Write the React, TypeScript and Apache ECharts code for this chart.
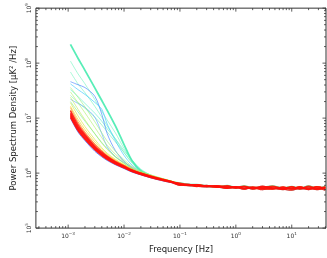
import React, { useEffect, useRef } from 'react';
import * as echarts from 'echarts';

// Frequencies [Hz]
const LOW_F = [0.0011, 0.0015, 0.002, 0.003, 0.004, 0.005, 0.007, 0.01, 0.014, 0.02, 0.03, 0.05, 0.07];
const PLATEAU_F = [0.1, 0.14, 0.2, 0.3, 0.45, 0.7, 1, 1.4, 2, 3, 4.5, 7, 10, 14, 20, 28, 40];

// Noisy white-noise plateaus
const PLAT_1 = [6.4e5, 6.0e5, 6.1e5, 5.7e5, 5.9e5, 5.5e5, 5.7e5, 5.2e5, 5.6e5, 5.3e5, 5.1e5, 5.6e5, 5.2e5, 5.7e5, 5.1e5, 5.6e5, 5.3e5];
const PLAT_2 = [6.1e5, 6.3e5, 5.8e5, 6.0e5, 5.5e5, 5.8e5, 5.3e5, 5.6e5, 5.1e5, 5.7e5, 5.4e5, 5.0e5, 5.6e5, 5.1e5, 5.6e5, 5.0e5, 5.5e5];
const PLAT_3 = [6.6e5, 6.2e5, 6.2e5, 5.8e5, 5.6e5, 5.9e5, 5.5e5, 5.8e5, 5.4e5, 5.5e5, 5.8e5, 5.3e5, 5.7e5, 5.2e5, 5.8e5, 5.3e5, 5.7e5];
const PLAT_4 = [6.2e5, 5.9e5, 5.8e5, 5.6e5, 5.7e5, 5.3e5, 5.5e5, 5.1e5, 5.5e5, 5.0e5, 5.3e5, 5.1e5, 4.9e5, 5.3e5, 5.0e5, 5.3e5, 4.9e5];
const PLAT_5 = [6.3e5, 6.1e5, 6.2e5, 5.8e5, 5.9e5, 5.6e5, 5.4e5, 5.7e5, 5.2e5, 5.3e5, 5.6e5, 5.2e5, 5.4e5, 5.5e5, 5.2e5, 5.7e5, 5.2e5];
const PLAT_6 = [6.0e5, 6.2e5, 5.7e5, 5.9e5, 5.6e5, 5.3e5, 5.6e5, 5.3e5, 5.3e5, 5.8e5, 5.2e5, 5.5e5, 5.1e5, 5.4e5, 5.4e5, 5.1e5, 5.5e5];

// Low-frequency parts of the spectra [uK^2/Hz]
const AQUA_1 = [2.19e8, 1.23e8, 7.4e7, 3.55e7, 2.09e7, 1.38e7, 7.2e6, 3.3e6, 1.66e6, 1.1e6, 8.8e5, 7.5e5, 6.9e5];
const AQUA_2 = [1.09e8, 6.4e7, 4.2e7, 2.18e7, 1.33e7, 9.2e6, 5.4e6, 2.8e6, 1.64e6, 1.13e6, 8.8e5, 7.5e5, 6.9e5];
const AQUA_3 = [6.9e7, 4.2e7, 2.9e7, 1.64e7, 1.04e7, 7.2e6, 4.2e6, 2.37e6, 1.51e6, 1.09e6, 8.8e5, 7.5e5, 6.9e5];
const AQUA_4 = [3.3e7, 2.47e7, 1.85e7, 1.23e7, 8.8e6, 6.4e6, 4.2e6, 2.58e6, 1.71e6, 1.18e6, 9.2e5, 7.5e5, 6.9e5];
const AQUA_5 = [2.58e7, 1.93e7, 1.51e7, 1.04e7, 7.5e6, 5.6e6, 3.7e6, 2.37e6, 1.57e6, 1.13e6, 9.2e5, 7.5e5, 6.9e5];
const BLUE_1 = [4.6e7, 4.05e7, 3.6e7, 2.5e7, 1.18e7, 5.2e6, 2.57e6, 1.64e6, 1.23e6, 1.0e6, 8.5e5, 7.4e5, 6.8e5];
const BLUE_2 = [4.2e7, 3.3e7, 2.7e7, 1.93e7, 1.45e7, 7.8e6, 3.9e6, 2.1e6, 1.39e6, 1.08e6, 8.8e5, 7.6e5, 7.0e5];
const BLUE_3 = [2.2e7, 1.85e7, 1.57e7, 1.04e7, 5.2e6, 3.0e6, 2.0e6, 1.57e6, 1.28e6, 1.04e6, 8.8e5, 7.8e5, 6.9e5];
const BLUE_4 = [1.0e7, 5.6e6, 3.9e6, 2.5e6, 1.98e6, 1.7e6, 1.42e6, 1.21e6, 1.04e6, 9.3e5, 8.2e5, 7.2e5, 6.7e5];
const GREEN_1 = [2.4e7, 1.45e7, 9.3e6, 5.2e6, 3.5e6, 2.7e6, 1.95e6, 1.5e6, 1.2e6, 1.03e6, 9.0e5, 7.8e5, 7.1e5];
const GREEN_2 = [3.0e7, 1.9e7, 1.25e7, 6.8e6, 4.4e6, 3.2e6, 2.2e6, 1.62e6, 1.26e6, 1.06e6, 9.2e5, 7.9e5, 7.2e5];
const GREEN_3 = [3.6e7, 2.4e7, 1.6e7, 8.6e6, 5.4e6, 3.8e6, 2.5e6, 1.75e6, 1.32e6, 1.08e6, 9.3e5, 7.9e5, 7.2e5];
const GREEN_4 = [2.0e7, 1.3e7, 8.8e6, 5.2e6, 3.6e6, 2.8e6, 2.0e6, 1.52e6, 1.2e6, 1.03e6, 9.0e5, 7.8e5, 7.1e5];
const YELLOW_1 = [1.65e7, 9.5e6, 6.2e6, 3.7e6, 2.7e6, 2.2e6, 1.72e6, 1.4e6, 1.17e6, 1.01e6, 8.9e5, 7.7e5, 7.1e5];
const YELLOW_2 = [1.9e7, 1.1e7, 7.0e6, 4.1e6, 2.9e6, 2.3e6, 1.78e6, 1.43e6, 1.18e6, 1.02e6, 9.0e5, 7.8e5, 7.1e5];
const ORANGE_1 = [1.4e7, 8.0e6, 5.3e6, 3.3e6, 2.5e6, 2.05e6, 1.65e6, 1.37e6, 1.15e6, 1.0e6, 8.9e5, 7.7e5, 7.1e5];
const ORANGE_2 = [1.55e7, 8.6e6, 5.6e6, 3.4e6, 2.55e6, 2.1e6, 1.68e6, 1.38e6, 1.16e6, 1.01e6, 8.9e5, 7.8e5, 7.1e5];
const RED_1 = [1.13e7, 6.4e6, 4.4e6, 2.8e6, 2.18e6, 1.85e6, 1.51e6, 1.28e6, 1.09e6, 9.6e5, 8.5e5, 7.5e5, 6.9e5];
const RED_2 = [1.25e7, 7.0e6, 4.8e6, 3.0e6, 2.3e6, 1.95e6, 1.58e6, 1.32e6, 1.12e6, 9.9e5, 8.7e5, 7.6e5, 7.0e5];
const RED_3 = [1.03e7, 5.9e6, 4.1e6, 2.65e6, 2.08e6, 1.77e6, 1.46e6, 1.24e6, 1.06e6, 9.4e5, 8.3e5, 7.3e5, 6.8e5];
const RED_4 = [1.35e7, 7.5e6, 5.0e6, 3.1e6, 2.4e6, 2.0e6, 1.6e6, 1.34e6, 1.13e6, 1.0e6, 8.8e5, 7.7e5, 7.1e5];
const RED_5 = [1.18e7, 6.7e6, 4.6e6, 2.9e6, 2.25e6, 1.9e6, 1.54e6, 1.30e6, 1.1e6, 9.7e5, 8.6e5, 7.5e5, 6.9e5];
const RED_6 = [1.08e7, 6.1e6, 4.2e6, 2.7e6, 2.12e6, 1.8e6, 1.48e6, 1.26e6, 1.07e6, 9.5e5, 8.4e5, 7.4e5, 6.8e5];

const X_TICK_EXPONENTS = [-3, -2, -1, 0, 1];
const Y_TICK_EXPONENTS = [5, 6, 7, 8, 9];

// Axis limits
const X_MIN = 2.65e-4;
const X_MAX = 41;
const Y_MIN = 1e5;
const Y_MAX = 1e9;

// Draw order: first is drawn underneath
const CURVES = [
  { low: BLUE_4, plat: PLAT_4, color: 'rgba(50,90,255,0.75)', width: 1 },
  { low: AQUA_2, plat: PLAT_1, color: 'rgba(110,245,190,0.6)', width: 1 },
  { low: AQUA_3, plat: PLAT_2, color: 'rgba(110,245,190,0.6)', width: 1 },
  { low: AQUA_4, plat: PLAT_3, color: 'rgba(90,240,200,0.6)', width: 1 },
  { low: AQUA_5, plat: PLAT_5, color: 'rgba(120,240,175,0.6)', width: 1 },
  { low: BLUE_1, plat: PLAT_6, color: 'rgba(80,140,255,0.7)', width: 1 },
  { low: BLUE_2, plat: PLAT_4, color: 'rgba(60,200,255,0.65)', width: 1 },
  { low: BLUE_3, plat: PLAT_2, color: 'rgba(90,160,255,0.6)', width: 1 },
  { low: AQUA_1, plat: PLAT_3, color: 'rgba(70,235,175,0.9)', width: 1.8 },
  { low: GREEN_3, plat: PLAT_1, color: 'rgba(150,240,120,0.6)', width: 1 },
  { low: GREEN_2, plat: PLAT_5, color: 'rgba(170,240,100,0.6)', width: 1 },
  { low: GREEN_1, plat: PLAT_6, color: 'rgba(190,235,80,0.6)', width: 1 },
  { low: GREEN_4, plat: PLAT_2, color: 'rgba(120,235,140,0.6)', width: 1 },
  { low: YELLOW_2, plat: PLAT_3, color: 'rgba(220,230,60,0.65)', width: 1 },
  { low: YELLOW_1, plat: PLAT_4, color: 'rgba(245,210,40,0.65)', width: 1 },
  { low: ORANGE_2, plat: PLAT_5, color: 'rgba(255,150,30,0.7)', width: 1 },
  { low: ORANGE_1, plat: PLAT_1, color: 'rgba(255,90,20,0.75)', width: 1.1 },
  { low: RED_1, plat: PLAT_1, color: 'rgba(255,15,10,0.85)', width: 1.3 },
  { low: RED_2, plat: PLAT_2, color: 'rgba(255,15,10,0.85)', width: 1.3 },
  { low: RED_3, plat: PLAT_3, color: 'rgba(255,15,10,0.85)', width: 1.3 },
  { low: RED_4, plat: PLAT_4, color: 'rgba(255,15,10,0.85)', width: 1.3 },
  { low: RED_5, plat: PLAT_5, color: 'rgba(255,15,10,0.85)', width: 1.3 },
  { low: RED_6, plat: PLAT_6, color: 'rgba(255,15,10,0.85)', width: 1.3 },
];

const FONT = 'DejaVu Sans';
const TICK_COLOR = '#333';

function expLabel(v: number, exps: number[]) {
  const l = Math.log10(v);
  const e = Math.round(l);
  if (Math.abs(l - e) > 1e-6 || exps.indexOf(e) < 0) return '';
  const s = e < 0 ? '\u2212' + Math.abs(e) : String(e);
  return '10{sup|' + s + '}';
}

function buildTicks() {
  const xt: number[][] = [];
  for (let e = -4; e <= 1; e++) {
    for (let m = 1; m <= 9; m++) {
      const v = m * Math.pow(10, e);
      if (v > X_MIN && v < X_MAX) xt.push([v, Y_MIN, m === 1 ? 3.5 : 2]);
    }
  }
  const yt: number[][] = [];
  for (let e = 5; e <= 9; e++) {
    for (let m = 1; m <= 9; m++) {
      const v = m * Math.pow(10, e);
      if (v >= Y_MIN && v <= Y_MAX) yt.push([X_MIN, v, m === 1 ? 3.5 : 2]);
    }
  }
  return { xt, yt };
}

export default function App() {
  const ref = useRef<HTMLDivElement>(null);
  useEffect(() => {
    if (!ref.current) return;
    const chart = echarts.init(ref.current, null, { renderer: 'svg' });
    const { xt, yt } = buildTicks();
    const tickStyle = { stroke: TICK_COLOR, lineWidth: 0.8 };
    const lineSeries = CURVES.map((c) => ({
      type: 'line',
      showSymbol: false,
      symbol: 'none',
      silent: true,
      smooth: 0.3,
      lineStyle: { color: c.color, width: c.width },
      data: [
        ...LOW_F.map((f, i) => [f, c.low[i]]),
        ...PLATEAU_F.map((f, i) => [f, c.plat[i]]),
      ],
    }));
    chart.setOption({
      animation: false,
      grid: {
        left: 29, right: 1, top: 7, bottom: 27,
        show: true, borderColor: '#333', borderWidth: 1, backgroundColor: 'transparent',
      },
      xAxis: {
        type: 'log', logBase: 10, min: X_MIN, max: X_MAX,
        name: 'Frequency [Hz]', nameLocation: 'middle', nameGap: 15,
        nameTextStyle: { fontFamily: FONT, fontSize: 8.5, color: '#222' },
        axisLine: { show: false }, axisTick: { show: false }, splitLine: { show: false },
        axisLabel: {
          margin: 3, showMinLabel: false, showMaxLabel: false,
          formatter: (v: number) => expLabel(v, X_TICK_EXPONENTS),
          fontFamily: FONT, fontSize: 6, color: '#333', lineHeight: 8,
          rich: { sup: { fontFamily: FONT, fontSize: 4.2, color: '#333', verticalAlign: 'top', lineHeight: 8 } },
        },
      },
      yAxis: {
        type: 'log', logBase: 10, min: Y_MIN, max: Y_MAX,
        name: 'Power Spectrum Density [\u03bcK\u00b2 /Hz]', nameLocation: 'middle', nameGap: 18,
        nameTextStyle: { fontFamily: FONT, fontSize: 8.5, color: '#222' },
        axisLine: { show: false }, axisTick: { show: false }, splitLine: { show: false },
        axisLabel: {
          margin: 3, rotate: 90,
          formatter: (v: number) => expLabel(v, Y_TICK_EXPONENTS),
          fontFamily: FONT, fontSize: 6, color: '#333', lineHeight: 8,
          rich: { sup: { fontFamily: FONT, fontSize: 4.2, color: '#333', verticalAlign: 'top', lineHeight: 8 } },
        },
      },
      series: [
        ...lineSeries,
        {
          type: 'custom', silent: true, clip: false, data: xt, z: 10,
          renderItem: (_p: any, api: any) => {
            const v = api.value(0);
            const len = api.value(2);
            const b = api.coord([v, Y_MIN]);
            const t = api.coord([v, Y_MAX]);
            return {
              type: 'group', children: [
                { type: 'line', shape: { x1: b[0], y1: b[1], x2: b[0], y2: b[1] - len }, style: tickStyle },
                { type: 'line', shape: { x1: t[0], y1: t[1], x2: t[0], y2: t[1] + len }, style: tickStyle },
              ],
            };
          },
        },
        {
          type: 'custom', silent: true, clip: false, data: yt, z: 10,
          renderItem: (_p: any, api: any) => {
            const v = api.value(1);
            const len = api.value(2);
            const l = api.coord([X_MIN, v]);
            const r = api.coord([X_MAX, v]);
            return {
              type: 'group', children: [
                { type: 'line', shape: { x1: l[0], y1: l[1], x2: l[0] + len, y2: l[1] }, style: tickStyle },
                { type: 'line', shape: { x1: r[0], y1: r[1], x2: r[0] - len, y2: r[1] }, style: tickStyle },
              ],
            };
          },
        },
      ],
    });
    return () => chart.dispose();
  }, []);
  return <div ref={ref} style={{ position: 'fixed', left: 0, top: 0, width: 327, height: 258 }} />;
}
